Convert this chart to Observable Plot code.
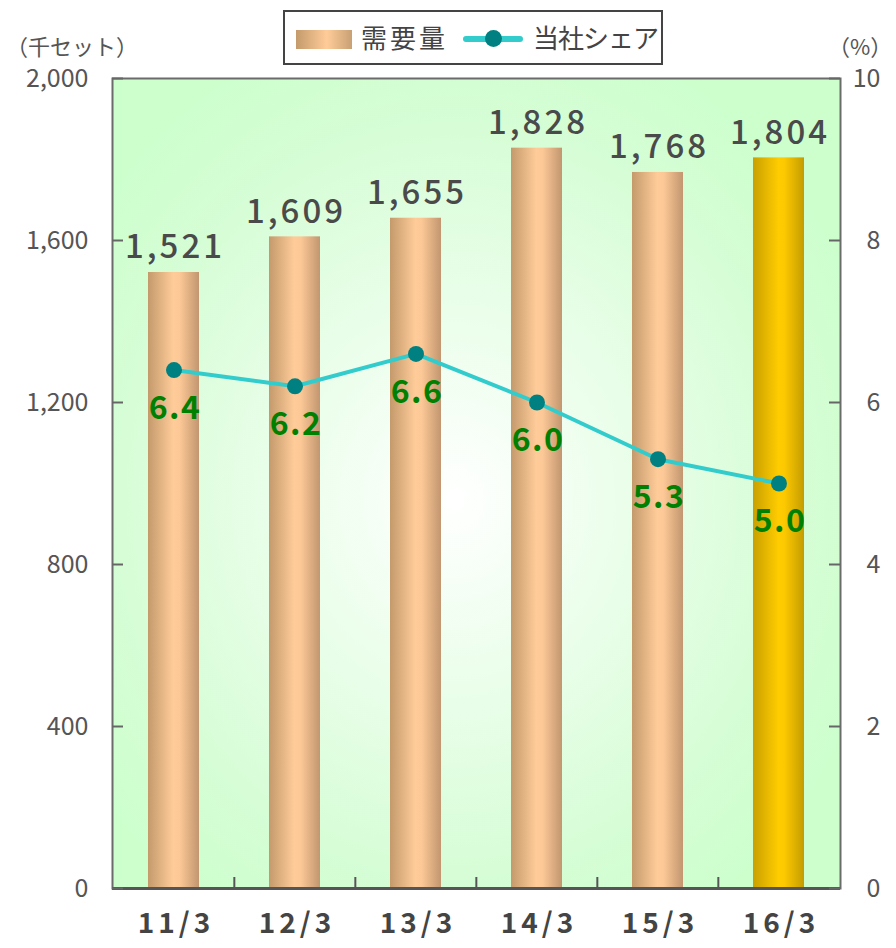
<!DOCTYPE html>
<html>
<head>
<meta charset="utf-8">
<script src="https://cdn.jsdelivr.net/npm/d3@7"></script>
<script src="https://cdn.jsdelivr.net/npm/@observablehq/plot@0.6"></script>
<style>
  body { margin: 0; background: #fff; }
  #wrap { position: relative; width: 896px; height: 948px; font-family: "Noto Sans CJK JP", "Noto Sans", sans-serif; }
  #chart svg { display: block; }
  .legend { position: absolute; left: 283px; top: 10px; width: 380px; height: 55px; box-sizing: border-box;
            border: 2px solid #444; background: #fff; }
  .sw-bar { position: absolute; left: 11px; top: 18px; width: 56px; height: 19px;
            background: linear-gradient(to right, #c49a6c, #ffcc99 55%, #c8a074); }
  .lab { position: absolute; top: 8px; font-size: 26px; line-height: 34px; color: #444; white-space: nowrap; }
  .sw-line { position: absolute; left: 178px; top: 24px; width: 60px; height: 6px; border-radius: 3px; background: #33cccc; }
  .sw-dot { position: absolute; left: 200px; top: 18px; width: 17px; height: 17px; border-radius: 50%; background: #008080; }
  .unit { position: absolute; top: 34px; font-size: 22px; line-height: 22px; color: #555; white-space: nowrap; }
</style>
</head>
<body>
<svg width="0" height="0" style="position:absolute">
  <defs>
    <radialGradient id="bgGrad" cx="0.47" cy="0.52" r="0.62">
      <stop offset="0" stop-color="#ffffff"/>
      <stop offset="0.75" stop-color="#d6fdd6"/>
      <stop offset="1" stop-color="#ccffcc"/>
    </radialGradient>
    <linearGradient id="tanGrad" x1="0" x2="1" y1="0" y2="0">
      <stop offset="0" stop-color="#c49a6c"/>
      <stop offset="0.5" stop-color="#ffcc99"/>
      <stop offset="0.62" stop-color="#fcc896"/>
      <stop offset="1" stop-color="#c29670"/>
    </linearGradient>
    <linearGradient id="goldGrad" x1="0" x2="1" y1="0" y2="0">
      <stop offset="0" stop-color="#c9a000"/>
      <stop offset="0.5" stop-color="#ffcc00"/>
      <stop offset="0.62" stop-color="#fcc800"/>
      <stop offset="1" stop-color="#c49c00"/>
    </linearGradient>
  </defs>
</svg>
<div id="wrap">
  <div id="chart"></div>
  <div class="unit" style="left:6px">（千セット）</div>
  <div class="unit" style="left:828px">（%）</div>
  <div class="legend">
    <div class="sw-bar"></div>
    <div class="lab" style="left:76px; letter-spacing:3px">需要量</div>
    <div class="sw-line"></div>
    <div class="sw-dot"></div>
    <div class="lab" style="left:248px; letter-spacing:-1px">当社シェア</div>
  </div>
</div>
<script>
const categories = ["11/3", "12/3", "13/3", "14/3", "15/3", "16/3"];
const demand = [1521, 1609, 1655, 1828, 1768, 1804];
const share = [6.4, 6.2, 6.6, 6.0, 5.3, 5.0];
const leftTicks = [0, 400, 800, 1200, 1600, 2000];
const rightTicks = [0, 2, 4, 6, 8, 10];
const highlight = "16/3";

const ratio = 2000 / 10;
const data = categories.map((c, i) => ({cat: c, demand: demand[i], share: share[i], s: share[i] * ratio}));

const W = 896, H = 948, mL = 112, mR = 56, mT = 78, mB = 60;
const plotW = W - mL - mR, plotH = H - mT - mB;
const step = plotW / categories.length;

const chart = Plot.plot({
  width: W, height: H,
  marginLeft: mL, marginRight: mR, marginTop: mT, marginBottom: mB,
  style: {fontFamily: '"Noto Sans CJK JP", "Noto Sans", sans-serif', background: "transparent", overflow: "visible"},
  x: {domain: categories, paddingInner: 0.58, paddingOuter: 0.29, label: null},
  y: {domain: [0, 2000], label: null},
  marks: [
    Plot.frame({fill: "url(#bgGrad)", stroke: null}),
    Plot.barY(data.filter(d => d.cat !== highlight), {x: "cat", y: "demand", fill: "url(#tanGrad)"}),
    Plot.barY(data.filter(d => d.cat === highlight), {x: "cat", y: "demand", fill: "url(#goldGrad)"}),
    Plot.text(data, {x: "cat", y: "demand", text: d => d3.format(",")(d.demand), dy: -14, dx: 1, lineAnchor: "bottom",
      fontSize: 33, fill: "#4a4a4a", fontWeight: 500, className: "demand-label"}),
    Plot.line(data, {x: "cat", y: "s", stroke: "#33cccc", strokeWidth: 4}),
    Plot.dot(data, {x: "cat", y: "s", r: 8, fill: "#008080", stroke: null}),
    Plot.text(data, {x: "cat", y: "s", text: d => d.share.toFixed(1), dy: 26, dx: 1, lineAnchor: "top",
      fontSize: 32, fontWeight: "bold", fill: "#008000", className: "share-label"}),
    Plot.frame({stroke: "#6b6b6b", strokeWidth: 2}),
    Plot.ruleY([0], {stroke: "#555", strokeWidth: 3}),
    Plot.tickY(leftTicks, {y: d => d, stroke: "#666", strokeWidth: 2, insetRight: plotW - 11}),
    Plot.tickY(rightTicks.map(v => v * ratio), {y: d => d, stroke: "#666", strokeWidth: 2, insetLeft: plotW - 11}),
    Plot.tickX(categories.slice(1), {x: d => d, dx: -step / 2, stroke: "#555", strokeWidth: 2, insetTop: plotH - 11}),
    Plot.axisY(leftTicks, {anchor: "left", tickSize: 0, tickPadding: 24, tickFormat: d3.format(","), fontSize: 25, fill: "#555"}),
    Plot.axisY(rightTicks.map(v => v * ratio), {anchor: "right", tickSize: 0, tickPadding: 40, textAnchor: "end", tickFormat: d => d / ratio, fontSize: 25, fill: "#555"}),
    Plot.axisX({tickSize: 0, tickPadding: 25, dx: 2, fontSize: 28, fontWeight: "bold", fill: "#444"})
  ]
});
const sel = d3.select(chart);
sel.selectAll('.demand-label text').style("letter-spacing", "3px");
sel.selectAll('.share-label text').style("letter-spacing", "1.5px");
sel.selectAll('g[aria-label="x-axis tick label"] text').style("letter-spacing", "4px");
document.getElementById("chart").appendChild(chart);
</script>
</body>
</html>
